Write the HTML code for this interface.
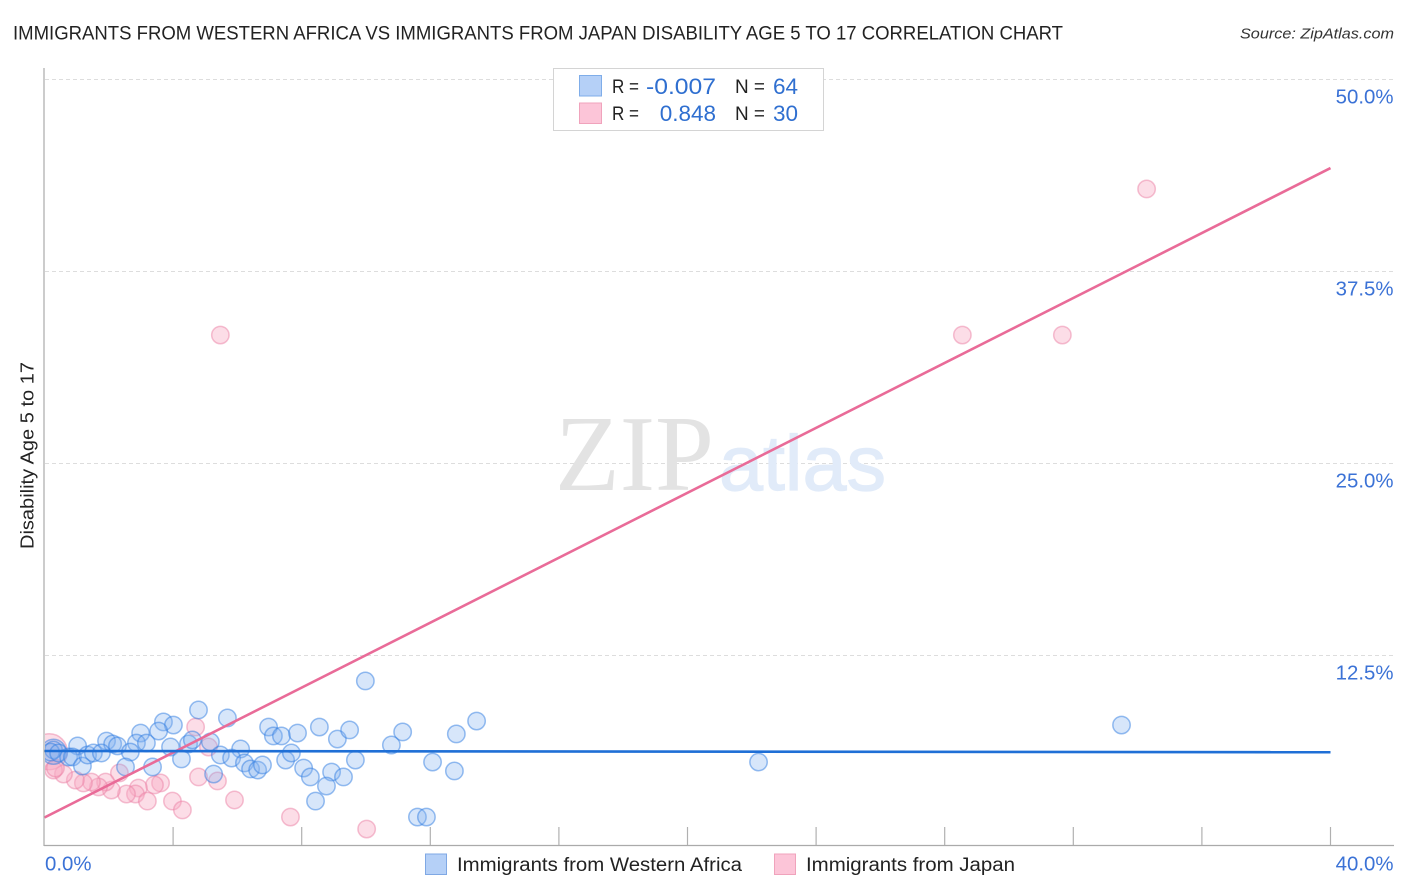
<!DOCTYPE html>
<html lang="en">
<head>
<meta charset="utf-8">
<title>Disability Age 5 to 17 Correlation Chart</title>
<style>
html,body{margin:0;padding:0;background:#fff;width:1406px;height:892px;overflow:hidden}
svg{display:block;font-family:"Liberation Sans",sans-serif}
.tick-label{fill:#3b72d6;font-size:20.4px}
.legend-text{fill:#222;font-size:19px}
.legend-val{fill:#2f6fd0;font-size:22.5px}
</style>
</head>
<body>
<svg id="chart" xmlns="http://www.w3.org/2000/svg" width="1406" height="892" viewBox="0 0 1406 892">
  <defs><clipPath id="plot-clip"><rect x="45" y="60" width="1349" height="785"/></clipPath></defs>
  <text x="13" y="39.500" font-size="19.500" fill="#222" textLength="1050" lengthAdjust="spacingAndGlyphs">IMMIGRANTS FROM WESTERN AFRICA VS IMMIGRANTS FROM JAPAN DISABILITY AGE 5 TO 17 CORRELATION CHART</text>
  <text x="1240" y="38.500" font-size="15" font-style="italic" fill="#333" textLength="154" lengthAdjust="spacingAndGlyphs">Source: ZipAtlas.com</text>
  <g id="grid"></g>
  <text x="555" y="490" font-family="'Liberation Serif',serif" font-size="108" fill="#e3e3e3" textLength="159" lengthAdjust="spacingAndGlyphs">ZIP</text>
  <text x="719" y="490" font-size="78" fill="#e1ebf9" stroke="#e1ebf9" stroke-width="1.2" textLength="167" lengthAdjust="spacingAndGlyphs">atlas</text>
  <g id="points" clip-path="url(#plot-clip)"></g>
  <g id="trends"></g>
  <g id="axes"></g>
  <g id="y-labels"></g>
  <text transform="translate(33.500,549) rotate(-90)" font-size="18" fill="#222" textLength="187" lengthAdjust="spacingAndGlyphs">Disability Age 5 to 17</text>
  <text class="tick-label" x="45" y="870.500">0.0%</text>
  <text class="tick-label" x="1393.500" y="870.500" text-anchor="end">40.0%</text>

  <g>
    <rect x="553.500" y="68.500" width="270" height="62" fill="#fff" stroke="#d4d4d4"/>
    <rect x="579.500" y="75.500" width="22" height="20.500" fill="#b5d0f7" stroke="#7fade9"/>
    <rect x="579.500" y="103" width="22" height="20.500" fill="#fcc5d8" stroke="#f0a3bc"/>
    <text class="legend-text" x="612" y="93" textLength="27" lengthAdjust="spacingAndGlyphs">R =</text>
    <text class="legend-val" x="646" y="94" textLength="70" lengthAdjust="spacingAndGlyphs">-0.007</text>
    <text class="legend-text" x="735" y="93" textLength="30" lengthAdjust="spacingAndGlyphs">N =</text>
    <text class="legend-val" x="798" y="94" text-anchor="end">64</text>
    <text class="legend-text" x="612" y="120" textLength="27" lengthAdjust="spacingAndGlyphs">R =</text>
    <text class="legend-val" x="716" y="121" text-anchor="end">0.848</text>
    <text class="legend-text" x="735" y="120" textLength="30" lengthAdjust="spacingAndGlyphs">N =</text>
    <text class="legend-val" x="798" y="121" text-anchor="end">30</text>
  </g>

  <g>
    <rect x="425.500" y="854" width="21" height="20.500" fill="#b5d0f7" stroke="#7fa8e4"/>
    <text x="457" y="871" font-size="19" fill="#222" textLength="285" lengthAdjust="spacingAndGlyphs">Immigrants from Western Africa</text>
    <rect x="774.500" y="854" width="21" height="20.500" fill="#fcc5d8" stroke="#f0a3bc"/>
    <text x="806" y="871" font-size="19" fill="#222" textLength="209" lengthAdjust="spacingAndGlyphs">Immigrants from Japan</text>
  </g>
</svg>
<script>
const westernAfricaX = [4.79,5.69,3.70,4.01,3.55,2.99,1.93,2.86,3.17,1.03,2.12,2.27,2.67,3.92,4.48,4.60,5.16,6.10,5.47,5.82,4.26,2.52,3.36,5.26,6.22,6.41,6.63,6.78,6.97,7.12,7.37,7.50,7.68,7.87,8.55,9.11,9.49,11.14,10.79,13.44,12.81,12.07,12.75,11.60,11.88,9.67,8.06,8.27,8.93,9.30,8.77,8.43,9.98,22.21,33.50,0.28,0.19,0.44,0.75,0.87,1.18,1.34,1.52,1.77];
const westernAfricaY = [8.92,8.40,8.14,7.94,7.55,7.42,6.90,6.77,6.77,6.58,6.71,6.58,6.18,6.51,6.71,6.97,6.84,6.38,5.99,5.79,5.73,5.21,5.21,4.75,5.47,5.08,5.01,5.34,7.81,7.23,7.23,5.66,6.12,7.42,7.81,7.03,7.62,7.49,6.64,8.20,7.36,5.53,4.95,1.95,1.95,5.66,5.14,4.56,4.88,4.56,3.97,2.99,10.81,5.53,7.94,6.32,6.18,6.12,5.86,5.86,5.27,5.99,6.12,6.12];
const westernAfricaLargeX = [0.28];
const westernAfricaLargeY = [6.2];
const japanX = [4.70,5.10,4.79,5.38,5.91,2.33,7.65,3.61,3.42,2.92,2.83,2.55,3.20,3.98,4.29,2.08,1.90,1.68,1.46,1.21,0.96,0.59,0.28,10.02,5.47,28.55,31.66,34.28,0.34];
const japanY = [7.81,6.51,4.56,4.30,3.06,4.82,1.95,4.17,4.04,3.84,3.45,3.45,2.99,2.99,2.41,3.71,4.23,3.91,4.23,4.17,4.36,4.75,5.01,1.17,33.33,33.33,33.33,42.84,5.14];
const japanLargeX = [0.15];
const japanLargeY = [6.2];
const trendX = [0, 40];
const westernAfricaTrendY = [6.25, 6.17];
const japanTrendY = [1.92, 44.2];
const yTicks = [12.5, 25, 37.5, 50];
const yTickLabels = ['12.5%', '25.0%', '37.5%', '50.0%'];
const xTicks = [4, 8, 12, 16, 20, 24, 28, 32, 36, 40];

const NS = 'http://www.w3.org/2000/svg';
function xScale(v) { return 44.5 + v * 32.15; }
function yScale(v) { return 847 - v * 15.36; }
function make(tag, attrs, parent) {
  const el = document.createElementNS(NS, tag);
  for (const k in attrs) el.setAttribute(k, attrs[k]);
  parent.appendChild(el);
  return el;
}

const gridG = document.getElementById('grid');
const axesG = document.getElementById('axes');
const yLabelG = document.getElementById('y-labels');
const pointsG = document.getElementById('points');
const trendsG = document.getElementById('trends');

yTicks.forEach(function (t, i) {
  const gy = Math.round(yScale(t)) + 0.5;
  const line = make('line', {x1: 45, x2: 1394, y1: gy, y2: gy, stroke: '#dddddd', 'stroke-width': 1, 'stroke-dasharray': '4 3'}, gridG);
  
  
  const label = make('text', {x: 1393.5, y: yScale(t) + 24.5, 'text-anchor': 'end', 'class': 'tick-label'}, yLabelG);
  label.textContent = yTickLabels[i];
  
  
});

const yAxis = make('line', {x1: 44, x2: 44, y1: 68, y2: 846, stroke: '#aaaaaa', 'stroke-width': 1.2}, axesG);


const xAxis = make('line', {x1: 44, x2: 1394, y1: 845.5, y2: 845.5, stroke: '#aaaaaa', 'stroke-width': 1.2}, axesG);


xTicks.forEach(function (t) {
  const tick = make('line', {x1: xScale(t), x2: xScale(t), y1: 827, y2: 845, stroke: '#b0b0b0', 'stroke-width': 1.2}, axesG);
  
  
});

function drawJapan(xs, ys, r) {
  xs.forEach(function (x, i) {
    const c = make('circle', {cx: xScale(x), cy: yScale(ys[i]), r: r, fill: 'rgba(248,170,195,0.4)', stroke: 'rgba(236,130,165,0.5)', 'stroke-width': 1.5}, pointsG);
    
    
  });
}
function drawAfrica(xs, ys, r) {
  xs.forEach(function (x, i) {
    const c = make('circle', {cx: xScale(x), cy: yScale(ys[i]), r: r, fill: 'rgba(130,178,240,0.32)', stroke: 'rgba(50,125,225,0.5)', 'stroke-width': 1.5}, pointsG);
    
    
  });
}
drawJapan(japanLargeX, japanLargeY, 18);
drawJapan(japanX, japanY, 8.7);
drawAfrica(westernAfricaLargeX, westernAfricaLargeY, 12.5);
drawAfrica(westernAfricaX, westernAfricaY, 8.7);

const trendJapan = make('line', {x1: xScale(trendX[0]), y1: yScale(japanTrendY[0]), x2: xScale(trendX[1]), y2: yScale(japanTrendY[1]), stroke: '#e96b98', 'stroke-width': 2.6}, trendsG);


const trendAfrica = make('line', {x1: xScale(trendX[0]), y1: yScale(westernAfricaTrendY[0]), x2: xScale(trendX[1]), y2: yScale(westernAfricaTrendY[1]), stroke: '#1f6fd6', 'stroke-width': 2.6}, trendsG);


</script>
</body>
</html>
